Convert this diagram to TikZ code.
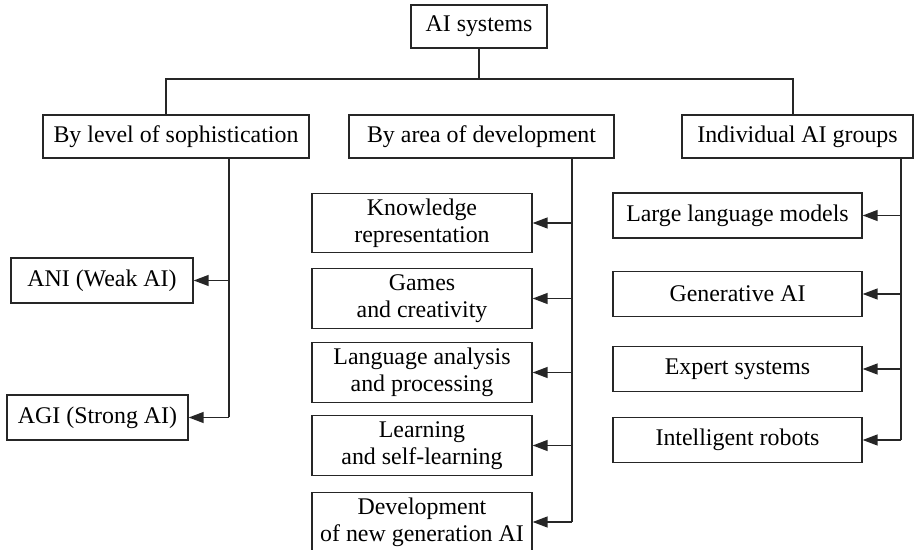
\documentclass[tikz,border=0pt]{standalone}
\usepackage{fontspec}
\setmainfont{Liberation Serif}
\usetikzlibrary{arrows.meta, positioning}

\begin{document}
\begin{tikzpicture}[x=0.02cm, y=-0.02cm]
    \tikzstyle{box} = [rectangle, draw=black!85, line width=0.8pt, inner sep=2pt, align=center, font=\fontsize{13.6}{15.2}\selectfont]
    \tikzstyle{head} = [box, minimum height=0.86cm]
    \tikzstyle{leaf} = [box, minimum height=0.9cm]
    \tikzstyle{tall} = [box, minimum height=1.19cm]
    \tikzstyle{link} = [draw=black!85, line width=0.8pt]
    \tikzstyle{arrow} = [link, -{Triangle[length=0.3cm, width=0.22cm]}]

    \useasboundingbox (0,0) rectangle (914,550);

    \node (root) [head, minimum width=2.72cm] at (479,26.5) {AI systems};

    \node (level) [head, minimum width=5.32cm] at (176,136.5) {By level of sophistication};
    \node (area) [head, minimum width=5.3cm] at (481.5,136.5) {By area of development};
    \node (groups) [head, minimum width=4.62cm] at (797.5,136.5) {Individual AI groups};

    % by level of sophistication
    \node (ani) [leaf, minimum width=3.64cm] at (102,280.5) {ANI (Weak AI)};
    \node (agi) [leaf, minimum width=3.62cm] at (97.5,417.5) {AGI (Strong AI)};

    % by area of development
    \node (knowledge) [tall, minimum width=4.4cm] at (422,223) {Knowledge\\representation};
    \node (games) [tall, minimum width=4.4cm] at (422,298.5) {Games\\and creativity};
    \node (language) [tall, minimum width=4.4cm] at (422,372.5) {Language analysis\\and processing};
    \node (learning) [tall, minimum width=4.4cm] at (422,445.5) {Learning\\and self-learning};
    \node (newgen) [tall, minimum width=4.4cm] at (422,522) {Development\\of new generation AI};

    % individual AI groups
    \node (llm) [leaf, minimum width=4.98cm] at (737.5,215.5) {Large language models};
    \node (genai) [leaf, minimum width=4.98cm] at (737.5,294) {Generative AI};
    \node (expert) [leaf, minimum width=4.98cm] at (737.5,369) {Expert systems};
    \node (robots) [leaf, minimum width=4.98cm] at (737.5,440) {Intelligent robots};

    \coordinate (bar) at (479,79);
    \coordinate (spineL) at (229,0);
    \coordinate (spineA) at (572,0);
    \coordinate (spineG) at (901,0);

    \draw [link] (root.south) -- (bar);
    \draw [link] (166,0 |- level.north) -- (166,0 |- bar) -- (793,0 |- bar) -- (793,0 |- groups.north);

    \draw [link] (spineL |- level.south) -- (spineL |- agi);
    \draw [arrow] (spineL |- ani) -- (ani.east);
    \draw [arrow] (spineL |- agi) -- (agi.east);

    \draw [link] (spineA |- area.south) -- (spineA |- newgen);
    \foreach \n in {knowledge, games, language, learning, newgen}
        \draw [arrow] (spineA |- \n) -- (\n.east);

    \draw [link] (spineG |- groups.south) -- (spineG |- robots);
    \foreach \n in {llm, genai, expert, robots}
        \draw [arrow] (spineG |- \n) -- (\n.east);
\end{tikzpicture}
\end{document}
